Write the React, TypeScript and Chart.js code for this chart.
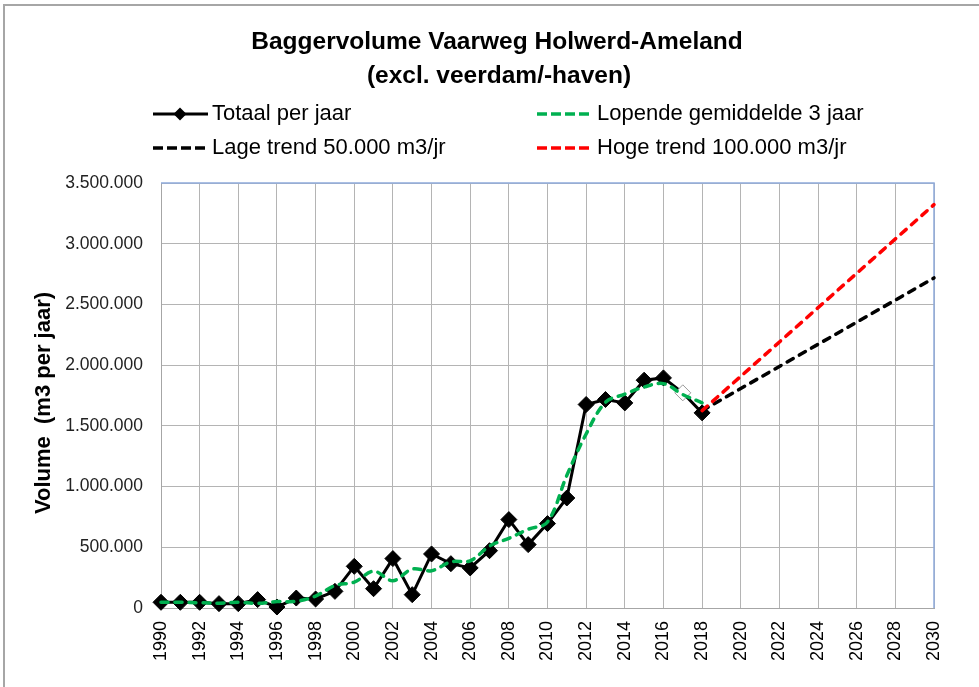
import React, { useEffect, useRef } from "react";
import { Chart, registerables } from "chart.js";

Chart.register(...registerables);

// ---- data ----
const years = [
  1990, 1991, 1992, 1993, 1994, 1995, 1996, 1997, 1998, 1999,
  2000, 2001, 2002, 2003, 2004, 2005, 2006, 2007, 2008, 2009,
  2010, 2011, 2012, 2013, 2014, 2015, 2016, 2017, 2018,
];
const totalPerYear = [
  47000, 47000, 47000, 36000, 36000, 69000, 8000, 82000, 74000, 137000,
  343000, 159000, 407000, 110000, 445000, 365000, 330000, 472000, 728000, 522000,
  695000, 906000, 1676000, 1717000, 1689000, 1876000, 1895000, 1772000, 1607000,
];
const movingAverage3 = [
  47000, 47000, 43000, 40000, 47000, 38000, 53000, 55000, 98000, 185000,
  213000, 303000, 225000, 321000, 307000, 380000, 389000, 510000, 574000, 648000,
  708000, 1092000, 1433000, 1694000, 1761000, 1820000, 1848000, 1758000, 1690000,
];
const trendYears = [2018, 2030];
const lowTrend = [1625000, 2718000];
const highTrend = [1625000, 3322000];

const titleLines = ["Baggervolume Vaarweg Holwerd-Ameland", "(excl. veerdam/-haven)"];
const seriesNames = [
  "Totaal per jaar",
  "Lopende gemiddelde 3 jaar",
  "Lage trend 50.000 m3/jr",
  "Hoge trend 100.000 m3/jr",
];
const yAxisTitle = "Volume  (m3 per jaar)";
const xMin = 1990;
const xMax = 2030;
const xStep = 2;
const yMin = 0;
const yMax = 3500000;
const yStep = 500000;

const GREEN = "#00b050";
const RED = "#ff0000";
const BLACK = "#000000";
const FONT = '"Liberation Sans", Arial, sans-serif';

function formatNL(v: number): string {
  return String(Math.round(v)).replace(/\B(?=(\d{3})+(?!\d))/g, ".");
}

const decorPlugin = {
  id: "decor",
  beforeDraw(chart: any) {
    const ctx = chart.ctx as CanvasRenderingContext2D;
    ctx.save();
    ctx.fillStyle = "#ffffff";
    ctx.fillRect(0, 0, chart.width, chart.height);
    ctx.strokeStyle = "#a6a6a6";
    ctx.lineWidth = 2;
    ctx.beginPath();
    ctx.moveTo(4, chart.height);
    ctx.lineTo(4, 5);
    ctx.lineTo(chart.width, 5);
    ctx.stroke();
    ctx.restore();
  },
  beforeDatasetsDraw(chart: any) {
    const ctx = chart.ctx as CanvasRenderingContext2D;
    const { left, top, right, bottom } = chart.chartArea;
    ctx.save();
    ctx.strokeStyle = "#8eaadb";
    ctx.lineWidth = 1.5;
    ctx.beginPath();
    ctx.moveTo(left, top);
    ctx.lineTo(right, top);
    ctx.lineTo(right, bottom);
    ctx.stroke();
    ctx.restore();
  },
  afterDraw(chart: any) {
    const ctx = chart.ctx as CanvasRenderingContext2D;
    ctx.save();
    ctx.fillStyle = "#000";
    ctx.textAlign = "center";
    ctx.textBaseline = "middle";
    ctx.font = `bold 24.5px ${FONT}`;
    ctx.fillText(titleLines[0], 497, 42);
    ctx.fillText(titleLines[1], 499, 76);

    ctx.save();
    ctx.translate(44, 403);
    ctx.rotate(-Math.PI / 2);
    ctx.font = `bold 22px ${FONT}`;
    ctx.fillText(yAxisTitle, 0, 0);
    ctx.restore();

    const rows = [114, 148];
    const cols = [153, 537];
    const symW = 55;
    const items = [
      { name: seriesNames[0], color: BLACK, dashed: false, marker: true, col: 0, row: 0 },
      { name: seriesNames[1], color: GREEN, dashed: true, marker: false, col: 1, row: 0 },
      { name: seriesNames[2], color: BLACK, dashed: true, marker: false, col: 0, row: 1 },
      { name: seriesNames[3], color: RED, dashed: true, marker: false, col: 1, row: 1 },
    ];
    ctx.font = `22px ${FONT}`;
    ctx.textAlign = "left";
    for (const it of items) {
      const x0 = cols[it.col];
      const y = rows[it.row];
      ctx.strokeStyle = it.color;
      ctx.lineWidth = it.dashed ? 3.5 : 3;
      ctx.setLineDash(it.dashed ? [10, 4] : []);
      ctx.beginPath();
      ctx.moveTo(x0, y);
      ctx.lineTo(x0 + symW, y);
      ctx.stroke();
      ctx.setLineDash([]);
      if (it.marker) {
        const cx = x0 + 27;
        const r = 6.5;
        ctx.fillStyle = it.color;
        ctx.beginPath();
        ctx.moveTo(cx - r, y);
        ctx.lineTo(cx, y - r);
        ctx.lineTo(cx + r, y);
        ctx.lineTo(cx, y + r);
        ctx.closePath();
        ctx.fill();
      }
      ctx.fillStyle = "#000";
      ctx.fillText(it.name, x0 + symW + 4 + (it.col === 1 ? 1 : 0), y);
    }
    ctx.restore();
  },
};

export default function App() {
  const canvasRef = useRef<HTMLCanvasElement | null>(null);

  useEffect(() => {
    const canvas = canvasRef.current;
    if (!canvas) return;

    const totalData = years.map((yr, i) => ({ x: yr, y: totalPerYear[i] }));
    const avgData = years.map((yr, i) => ({ x: yr, y: movingAverage3[i] }));
    const lowData = trendYears.map((yr, i) => ({ x: yr, y: lowTrend[i] }));
    const highData = trendYears.map((yr, i) => ({ x: yr, y: highTrend[i] }));

    const pointBg = years.map((yr) => (yr === 2017 ? "#ffffff" : BLACK));
    const pointBorder = years.map((yr) => (yr === 2017 ? "#9a9a9a" : BLACK));

    const chart = new Chart(canvas, {
      type: "line",
      data: {
        datasets: [
          {
            label: seriesNames[0],
            data: totalData,
            borderColor: BLACK,
            borderWidth: 3,
            pointStyle: "rectRot",
            pointRadius: 8,
            pointBorderWidth: 1,
            pointBackgroundColor: pointBg,
            pointBorderColor: pointBorder,
            tension: 0,
            clip: false,
            order: 3,
          },
          {
            label: seriesNames[1],
            data: avgData,
            borderColor: GREEN,
            borderWidth: 3.5,
            borderDash: [7, 7],
            borderCapStyle: "round",
            pointRadius: 0,
            tension: 0.35,
            clip: false,
            order: 2,
          },
          {
            label: seriesNames[2],
            data: lowData,
            borderColor: BLACK,
            borderWidth: 3.5,
            borderDash: [7, 7],
            borderCapStyle: "round",
            pointRadius: 0,
            clip: false,
            order: 1,
          },
          {
            label: seriesNames[3],
            data: highData,
            borderColor: RED,
            borderWidth: 3.5,
            borderDash: [7, 7],
            borderCapStyle: "round",
            pointRadius: 0,
            clip: false,
            order: 0,
          },
        ],
      } as any,
      options: {
        responsive: false,
        animation: false,
        events: [],
        layout: { padding: { left: 0, top: 183, right: 45, bottom: 0 } },
        plugins: {
          legend: { display: false },
          title: { display: false },
          tooltip: { enabled: false },
        },
        scales: {
          x: {
            type: "linear",
            min: xMin,
            max: xMax,
            afterFit: (s: any) => {
              s.height = 79;
            },
            ticks: {
              stepSize: xStep,
              autoSkip: false,
              maxRotation: 90,
              minRotation: 90,
              padding: 13,
              color: "#000",
              font: { family: FONT, size: 18 },
              callback: (v: any) => String(v),
            },
            grid: { color: "#b4b4b4", lineWidth: 1, drawTicks: false },
            border: { display: true, color: "#a6a6a6", width: 1 },
          },
          y: {
            type: "linear",
            min: yMin,
            max: yMax,
            afterFit: (s: any) => {
              s.width = 161;
            },
            ticks: {
              stepSize: yStep,
              padding: 18,
              color: "#222",
              font: { family: FONT, size: 17.5 },
              callback: (v: any) => formatNL(Number(v)),
            },
            grid: { color: "#b4b4b4", lineWidth: 1, drawTicks: false },
            border: { display: true, color: "#a6a6a6", width: 1 },
            title: { display: false },
          },
        },
      } as any,
      plugins: [decorPlugin],
    });

    return () => {
      chart.destroy();
    };
  }, []);

  return (
    <div style={{ position: "absolute", left: 0, top: 0, width: 979, height: 687, background: "#fff" }}>
      <canvas ref={canvasRef} width={979} height={687} style={{ display: "block" }} />
    </div>
  );
}
